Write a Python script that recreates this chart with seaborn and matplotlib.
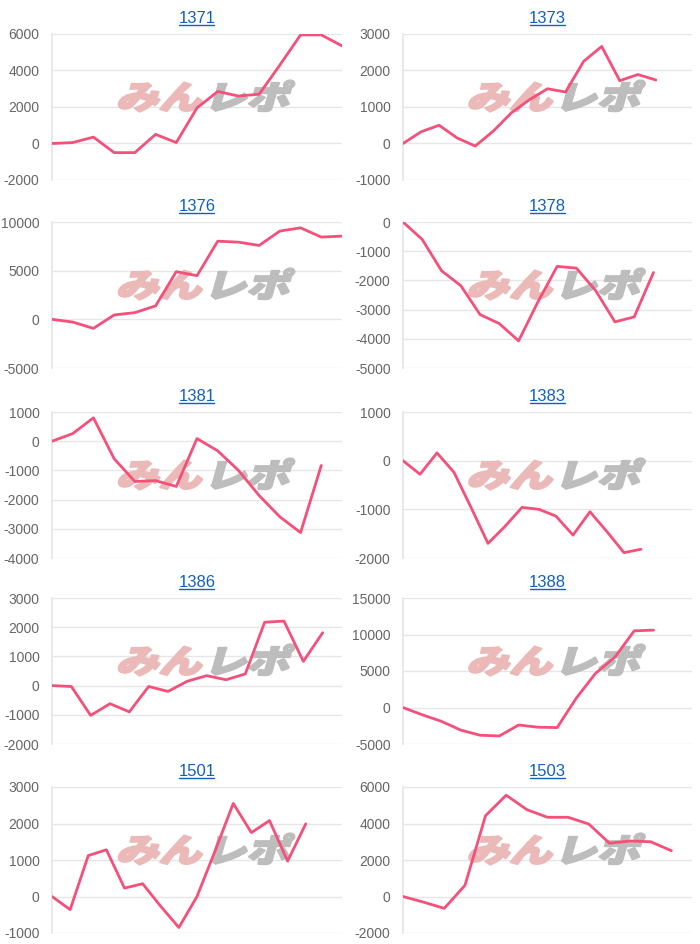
import numpy as np
import pandas as pd
import matplotlib
matplotlib.use("Agg")
import matplotlib.pyplot as plt
import seaborn as sns
from matplotlib.textpath import TextPath
from matplotlib.patches import PathPatch
from matplotlib.font_manager import FontProperties
from matplotlib.transforms import Affine2D
from matplotlib.lines import Line2D

# 각 차트 데이터
titles = ["1371", "1373", "1376", "1378", "1381", "1383", "1386", "1388", "1501", "1503"]
slots = [15, 17, 15, 16, 15, 18, 16, 16, 17, 15]

v1371 = [0, 50, 350, -500, -500, 500, 50, 1950, 2850, 2600, 2700, 4300, 5950, 5950, 5350]
v1373 = [0, 320, 500, 150, -70, 340, 840, 1200, 1500, 1410, 2250, 2660, 1720, 1890, 1740]
v1376 = [0, -280, -930, 450, 690, 1380, 4900, 4480, 8030, 7930, 7590, 9070, 9400, 8450, 8550]
v1378 = [0, -600, -1670, -2180, -3170, -3480, -4070, -2740, -1520, -1580, -2350, -3420, -3250, -1730]
v1381 = [0, 260, 800, -600, -1380, -1350, -1550, 90, -330, -1000, -1860, -2590, -3130, -830]
v1383 = [0, -280, 160, -240, -960, -1700, -1350, -960, -1000, -1140, -1530, -1050, -1460, -1890, -1820]
v1386 = [0, -30, -1020, -620, -900, -30, -200, 150, 340, 200, 400, 2170, 2210, 830, 1810]
v1388 = [0, -1000, -1900, -3100, -3800, -3900, -2400, -2700, -2750, 1300, 4700, 6900, 10500, 10600]
v1501 = [0, -360, 1120, 1280, 230, 350, -270, -850, 0, 1250, 2550, 1750, 2080, 970, 1990]
v1503 = [0, -310, -650, 610, 4430, 5550, 4760, 4340, 4340, 3970, 2920, 3040, 3000, 2510]
series = [v1371, v1373, v1376, v1378, v1381, v1383, v1386, v1388, v1501, v1503]

ymins = [-2000, -1000, -5000, -5000, -4000, -2000, -2000, -5000, -1000, -2000]
ymaxs = [6000, 3000, 10000, 0, 1000, 1000, 3000, 15000, 3000, 6000]
ysteps = [2000, 1000, 5000, 1000, 1000, 1000, 1000, 5000, 1000, 2000]

sns.set_theme(style="white")
plt.rcParams['font.family'] = ['Liberation Sans', 'DejaVu Sans']
plt.rcParams['axes.unicode_minus'] = False

W, H = 700, 944
fig = plt.figure(figsize=(W / 100, H / 100), dpi=100)
px = Affine2D().scale(1 / W, 1 / H) + fig.transFigure

line_color = "#f5507a"
grid_color = "#e6e6e6"
col_x = [(52, 342), (403, 692)]
row_top = [34, 222, 412, 598, 787]
ax_h = 146

wm_prop = FontProperties(family="Noto Sans CJK JP", weight="black")
p_a = TextPath((0, 0), "みん", size=1, prop=wm_prop)
ea = p_a.get_extents()
p_b = TextPath((ea.x1 + 0.08, 0), "レポ", size=1, prop=wm_prop)
eb = p_b.get_extents()
wx0, wx1 = ea.x0, eb.x1
wy0, wy1 = min(ea.y0, eb.y0), max(ea.y1, eb.y1)

axes = []
for i, t in enumerate(titles):
    r, c = divmod(i, 2)
    x0, x1 = col_x[c]
    top = row_top[r]
    ax = fig.add_axes([x0 / W, 1 - (top + ax_h) / H, (x1 - x0) / W, ax_h / H])
    vals = series[i] + [np.nan] * (slots[i] - len(series[i]))
    df = pd.DataFrame({"x": np.arange(slots[i]), "y": vals})
    sns.lineplot(data=df, x="x", y="y", ax=ax, color=line_color, linewidth=2.0, zorder=3)
    ax.set_xlim(0, slots[i] - 1)
    ax.set_ylim(ymins[i], ymaxs[i])
    ax.set_yticks(np.arange(ymins[i], ymaxs[i] + 1, ysteps[i]))
    ax.set_xticks([])
    ax.set_xlabel("")
    ax.set_ylabel("")
    ax.yaxis.grid(True, color=grid_color, linewidth=1)
    ax.set_axisbelow(True)
    for s in ["top", "right", "bottom"]:
        ax.spines[s].set_visible(False)
    ax.spines["left"].set_color(grid_color)
    ax.tick_params(axis="y", colors="#666666", labelsize=10, length=6, width=1, color=grid_color, pad=3)
    for lab in ax.get_yticklabels():
        lab.set_color("#666666")
    ax.set_title(t, color="#1060c0", fontsize=12, pad=8)

    # 워터마크
    cx = (x0 + x1) / 2 + 9
    cy = H - (top + ax_h / 2 - 11)
    sx = 170 / (wx1 - wx0)
    sy = 31 / (wy1 - wy0)
    tr = (Affine2D().translate(-(wx0 + wx1) / 2, -(wy0 + wy1) / 2)
          .scale(sx, sy).skew_deg(16, 0).translate(cx, cy) + px)
    for p, col in [(p_a, "#ecb9b9"), (p_b, "#bdbdbd")]:
        ax.add_patch(PathPatch(p, transform=tr, facecolor=col, edgecolor=col, linewidth=1.6,
                               joinstyle="round", clip_on=False, zorder=1))
    axes.append(ax)

# 제목 밑줄
fig.canvas.draw()
rend = fig.canvas.get_renderer()
for ax in axes:
    bb = ax.title.get_window_extent(rend)
    y = bb.y0 + 1
    fig.add_artist(Line2D([(bb.x0 + 0.5) / W, (bb.x1 - 1.5) / W], [y / H, y / H],
                          transform=fig.transFigure, color="#1060c0", linewidth=1))

fig.savefig("out.png", dpi=100)
